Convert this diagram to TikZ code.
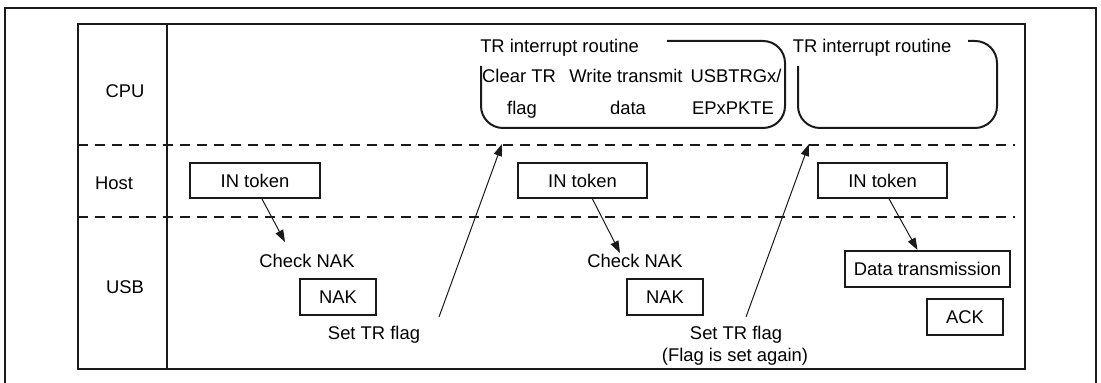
\documentclass[tikz,border=0pt]{standalone}
\usepackage{fontspec}
\setmainfont{Liberation Sans}
\usetikzlibrary{arrows.meta}
\definecolor{ink}{HTML}{1A1A1A}

\begin{document}
\begin{tikzpicture}[x=0.5pt,y=-0.5pt,font=\fontsize{9.2}{11}\selectfont,
  frame/.style={draw=ink,line width=1pt},
  lane/.style={draw=ink,line width=1pt,dash pattern=on 5pt off 3.5pt},
  pkt/.style={draw=ink,line width=1pt,minimum height=17.5pt,inner sep=0pt},
  routine/.style={draw=ink,line width=1pt,rounded corners=11pt},
  lbl/.style={anchor=base,inner sep=0pt},
  flow/.style={draw=ink,line width=0.5pt,-{Triangle[length=6pt,width=4.2pt]}}]
  \useasboundingbox (0,0) rectangle (1101,383);
  \draw[frame] (5,8) rectangle (1096,400);
  \draw[frame] (78,24) rectangle (1025,369);
  \draw[frame] (167,24) -- (167,369);
  \draw[lane] (78,145) -- (1015,145);
  \draw[lane] (78,217) -- (1015,217);

  \node[lbl] (cpu) at (125,97.5) {CPU};
  \node[lbl] (host) at (114,190) {Host};
  \node[lbl] (usb) at (125,294) {USB};

  % CPU lane
  \draw[routine] (667,41) -- (785,41) -- (785,128) -- (481,128) -- (481,66);
  \node[lbl] (isr1) at (559.5,53) {TR interrupt routine};
  \node[lbl] (clr1) at (519,83) {Clear TR};
  \node[lbl] (clr2) at (522,115) {flag};
  \node[lbl] (wrt1) at (626,83) {Write transmit};
  \node[lbl] (wrt2) at (628,115) {data};
  \node[lbl] (trg1) at (736,83) {USBTRGx/};
  \node[lbl] (trg2) at (733,115) {EPxPKTE};
  \draw[routine] (968,41) -- (997,41) -- (997,128) -- (798,128) -- (798,66);
  \node[lbl] (isr2) at (872,53) {TR interrupt routine};

  % Host lane
  \node[pkt,minimum width=65pt] (in1) at (255,180.5) {IN token};
  \node[pkt,minimum width=64.5pt] (in2) at (582.5,180.5) {IN token};
  \node[pkt,minimum width=64.5pt] (in3) at (882.5,180.5) {IN token};

  % USB lane
  \node[lbl] (chk1) at (307,268) {Check NAK};
  \node[pkt,minimum width=38pt,minimum height=18pt] (nak1) at (338,297) {NAK};
  \node[lbl] (set1) at (374,340) {Set TR flag};
  \node[lbl] (chk2) at (635,268) {Check NAK};
  \node[pkt,minimum width=38pt,minimum height=18pt] (nak2) at (665,297) {NAK};
  \node[lbl] (set2) at (736,340) {Set TR flag};
  \node[lbl] (again) at (735,362) {(Flag is set again)};
  \node[pkt,minimum width=82.5pt,minimum height=18pt] (dat) at (927.5,269) {Data transmission};
  \node[pkt,minimum width=38pt,minimum height=18pt] (ack) at (965,317) {ACK};

  \coordinate (t1) at (285,242);
  \coordinate (t2) at (620,253);
  \coordinate (s1) at (439,317);
  \coordinate (r1) at (502,144);
  \coordinate (s2) at (746,317);
  \coordinate (r2) at (809,144);
  \draw[flow] ([xshift=3.5pt]in1.south) -- (t1);
  \draw[flow] ([xshift=5pt]in2.south) -- (t2);
  \draw[flow] ([xshift=3.3pt]in3.south) -- ([xshift=-5pt]dat.north);
  \draw[flow] (s1) -- (r1);
  \draw[flow] (s2) -- (r2);
\end{tikzpicture}
\end{document}
